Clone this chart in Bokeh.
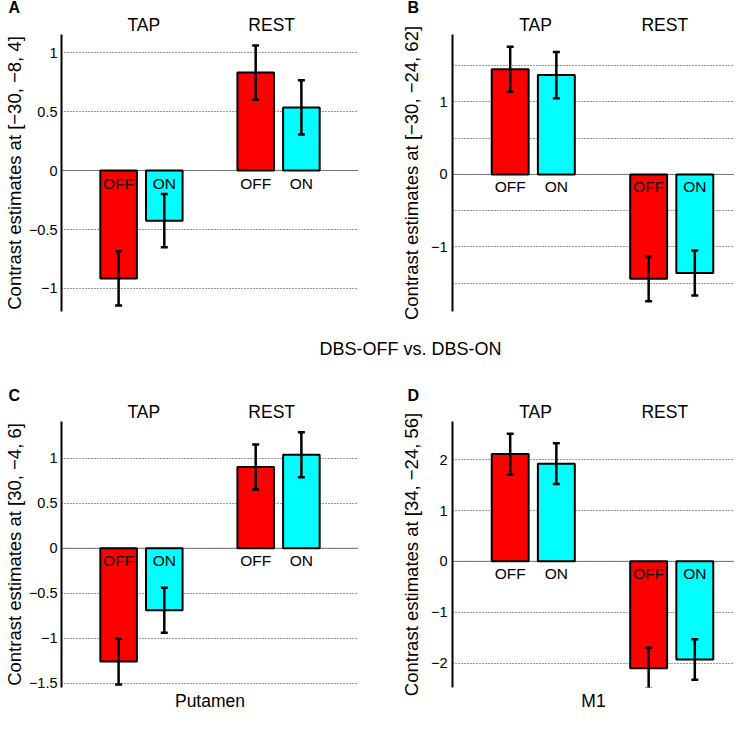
from bokeh.plotting import figure
from bokeh.models import (Range1d, FixedTicker, LinearAxis, Whisker, TeeHead,
                          ColumnDataSource, Span, Label, Title, CustomJSTickFormatter)
from bokeh.layouts import row, column
from bokeh.embed import file_html
from bokeh.resources import INLINE
from bokeh.core.properties import value

FONT = "Liberation Sans"

# ---------------- data ----------------
states = ["OFF", "ON", "OFF", "ON"]
positions = [1, 2, 4, 5]
bar_colors = ["#FF0000", "#00FFFF", "#FF0000", "#00FFFF"]
group_labels = ["TAP", "REST"]
group_positions = [1.55, 4.35]

a_values = [-0.915, -0.425, 0.83, 0.535]
a_errors = [0.23, 0.225, 0.23, 0.23]
b_values = [1.45, 1.37, -1.44, -1.36]
b_errors = [0.31, 0.32, 0.31, 0.31]
c_values = [-1.26, -0.69, 0.905, 1.04]
c_errors = [0.255, 0.25, 0.25, 0.25]
d_values = [2.11, 1.92, -2.10, -1.93]
d_errors = [0.40, 0.40, 0.40, 0.40]

a_ticks = [-1, -0.5, 0, 0.5, 1]
a_grid = [-1, -0.5, 0, 0.5, 1]
b_ticks = [-1, 0, 1]
b_grid = [-1.5, -1, -0.5, 0, 0.5, 1, 1.5]
c_ticks = [-1.5, -1, -0.5, 0, 0.5, 1]
c_grid = [-1.5, -1, -0.5, 0, 0.5, 1]
d_ticks = [-2, -1, 0, 1, 2]
d_grid = [-2, -1, 0, 1, 2]

a_yrange = (-1.195, 1.153)
b_yrange = (-1.89, 1.93)
c_yrange = (-1.548, 1.41)
d_yrange = (-2.48, 2.75)
x_start = -0.25
x_span_full = 6.5  # x extent of a full-width panel

a_ylabel = "Contrast estimates at [\u221230, \u22128, 4]"
b_ylabel = "Contrast estimates at [\u221230, \u221224, 62]"
c_ylabel = "Contrast estimates at [30, \u22124, 6]"
d_ylabel = "Contrast estimates at [34, \u221224, 56]"
c_xlabel = "Putamen"
d_xlabel = "M1"
middle_title = "DBS-OFF vs. DBS-ON"
letters = ["A", "B", "C", "D"]

FULL_FRAME_W = 300


def make_panel(letter, vals, errs, yr, ticks, grid, ylabel, xlabel,
               width, height, bl, br, bt, bb, tick_standoff, ylabel_standoff,
               letter_offset, letter_standoff):
    frame_w = width - bl - br
    x_end = x_start + x_span_full * frame_w / FULL_FRAME_W
    p = figure(width=width, height=height, output_backend="svg",
               toolbar_location=None, x_range=Range1d(x_start, x_end),
               y_range=Range1d(*yr), min_border_left=bl, min_border_right=br,
               min_border_top=bt, min_border_bottom=bb,
               background_fill_color="white", border_fill_color="white")
    p.outline_line_color = None

    # bottom axis: only (optional) label
    xa = p.below[0]
    xa.ticker = FixedTicker(ticks=[])
    xa.axis_line_color = None
    xa.major_tick_line_color = None
    xa.minor_tick_line_color = None
    xa.major_tick_out = 0
    xa.major_tick_in = 0
    xa.major_label_standoff = 0
    if xlabel:
        xa.axis_label = xlabel
        xa.axis_label_text_font = FONT
        xa.axis_label_text_font_size = "17.5px"
        xa.axis_label_text_font_style = "normal"
        xa.axis_label_text_color = "black"
        xa.axis_label_standoff = 3
    else:
        xa.visible = False

    # y axis
    ya = p.left[0]
    ya.ticker = FixedTicker(ticks=ticks)
    ya.formatter = CustomJSTickFormatter(code="return String(tick).replace('-', '\u2212');")
    ya.axis_line_width = 2
    ya.axis_line_color = "black"
    ya.major_tick_line_color = None
    ya.minor_tick_line_color = None
    ya.major_tick_out = 0
    ya.major_tick_in = 0
    ya.major_label_standoff = tick_standoff
    ya.major_label_text_font = FONT
    ya.major_label_text_font_size = "14.5px"
    ya.major_label_text_color = "black"
    ya.axis_label = ylabel
    ya.axis_label_text_font = FONT
    ya.axis_label_text_font_size = "18.5px"
    ya.axis_label_text_font_style = "normal"
    ya.axis_label_text_color = "black"
    ya.axis_label_standoff = ylabel_standoff

    # grid
    p.xgrid.visible = False
    p.ygrid.ticker = FixedTicker(ticks=grid)
    p.ygrid.grid_line_dash = "1 2"
    p.ygrid.grid_line_color = "#333333"
    p.ygrid.grid_line_width = 1

    p.add_layout(Span(location=0, dimension="width", line_color="#777777",
                      line_width=1, level="underlay"))

    upper = [v + e for v, e in zip(vals, errs)]
    lower = [v - e for v, e in zip(vals, errs)]
    src = ColumnDataSource(dict(x=positions, top=vals, color=bar_colors,
                                state=states, upper=upper, lower=lower))
    p.vbar(x="x", top="top", bottom=0, width=0.8, fill_color="color",
           line_color="black", line_width=2, source=src)
    p.text(x="x", y=0, text="state", source=src, text_align="center",
           text_baseline="top", y_offset=4, text_font=value(FONT),
           text_font_size="15.5px", text_color="black")
    p.add_layout(Whisker(base="x", upper="upper", lower="lower", source=src,
                         line_color="black", line_width=2.5, level="annotation",
                         upper_head=TeeHead(size=7, line_width=2.5, line_color="black"),
                         lower_head=TeeHead(size=7, line_width=2.5, line_color="black")))

    # group labels on top axis
    ta = LinearAxis(ticker=FixedTicker(ticks=group_positions),
                    major_label_overrides={g: t for g, t in zip(group_positions, group_labels)},
                    axis_line_color=None, major_tick_line_color=None,
                    minor_tick_line_color=None, major_tick_out=0, major_tick_in=0,
                    major_label_standoff=0,
                    major_label_text_font=FONT, major_label_text_font_size="17.5px",
                    major_label_text_color="black")
    p.add_layout(ta, "above")

    p.add_layout(Title(text=letter, align="left", offset=letter_offset,
                       standoff=letter_standoff, text_font=FONT,
                       text_font_size="16px", text_font_style="bold",
                       text_color="black"), "above")
    return p


pa = make_panel(letters[0], a_values, a_errors, a_yrange, a_ticks, a_grid, a_ylabel, None,
                375, 330, 58, 17, 34, 19, 4, 1, -53, -8)
pb = make_panel(letters[1], b_values, b_errors, b_yrange, b_ticks, b_grid, b_ylabel, None,
                359, 330, 77, 0, 34, 19, 5, 6, -45, -8)
pc = make_panel(letters[2], c_values, c_errors, c_yrange, c_ticks, c_grid, c_ylabel, c_xlabel,
                375, 348, 58, 17, 56, 23, 4, 1, -53, -10)
pd = make_panel(letters[3], d_values, d_errors, d_yrange, d_ticks, d_grid, d_ylabel, d_xlabel,
                359, 348, 77, 0, 56, 23, 5, 6, -45, -10)

pm = figure(width=734, height=35, output_backend="svg", toolbar_location=None,
            x_range=Range1d(0, 1), y_range=Range1d(0, 1), min_border=0)
pm.outline_line_color = None
pm.axis.visible = False
pm.grid.visible = False
pm.add_layout(Label(x=410, y=18, x_units="canvas", y_units="canvas",
                    text=middle_title, text_font=FONT, text_font_size="18px",
                    text_align="center", text_baseline="middle", text_color="black"))

layout = column(row(pa, pb), pm, row(pc, pd))
open("out.html", "w").write(file_html(layout, INLINE))
